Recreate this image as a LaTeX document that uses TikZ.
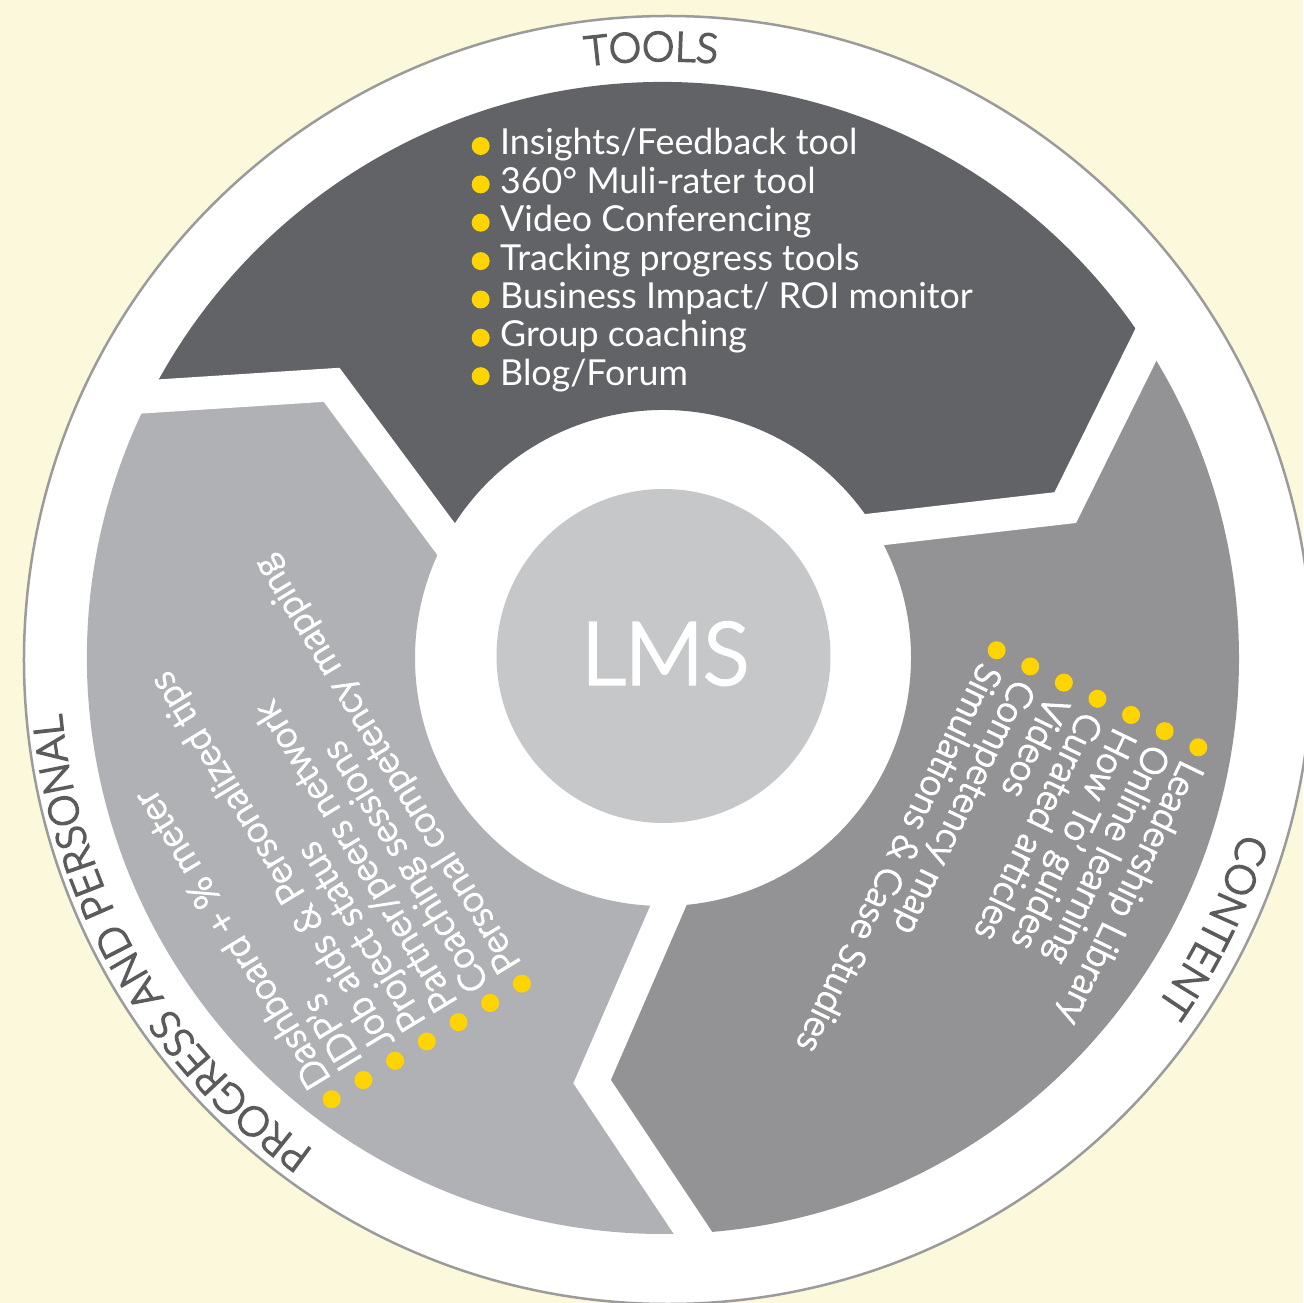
\documentclass[tikz,border=0pt]{standalone}
\usepackage{fontspec}
\setmainfont{Lato}
\newfontfamily\latolight{Lato Light}[FakeBold=2]
\newfontfamily\latomid{Lato Light}[FakeBold=4]
\usetikzlibrary{decorations.text}
\definecolor{cream}{HTML}{FCF8DB}
\definecolor{darkseg}{HTML}{626366}
\definecolor{medseg}{HTML}{939395}
\definecolor{lightseg}{HTML}{AFB1B4}
\definecolor{lmsfill}{HTML}{C6C7C9}
\definecolor{ringline}{HTML}{9B9B9B}
\definecolor{labcol}{HTML}{5B5B5E}
\definecolor{bulletcol}{HTML}{FFD400}
\newcommand\labfont{\latomid\fontsize{41}{41}\selectfont}
\begin{document}
\begin{tikzpicture}[x=1pt,y=1pt,
  bulletdot/.style={fill=bulletcol},
  tooltext/.style={text=white, inner sep=0pt, anchor=base west, font=\fontsize{35.8}{38}\selectfont},
  rottext/.style={text=white, inner sep=0pt, anchor=base west, font=\latomid\fontsize{36.5}{37}\selectfont},
  gapband/.style={draw=white, line width=33pt, line join=miter, shorten <=-25pt, shorten >=-25pt}]
\useasboundingbox (-663,-645) rectangle (640,658);
\fill[cream] (-663,-645) rectangle (640,658);
% outer white disc
\draw[draw=ringline, line width=2.5pt, fill=white] (5,-2) circle[radius=644];
% three segments
\foreach \k/\col in {0/darkseg,1/lightseg,2/medseg}{
  \pgfmathsetmacro\ao{33+120*\k}
  \pgfmathsetmacro\ae{153+120*\k}
  \pgfmathsetmacro\me{140.5+120*\k}
  \pgfmathsetmacro\ie{151.2+120*\k}
  \pgfmathsetmacro\io{31.2+120*\k}
  \pgfmathsetmacro\mo{20.5+120*\k}
  \fill[\col] (\ao:576) arc[start angle=\ao, end angle=\ae, radius=576]
    -- (\me:429.5) -- (\ie:248) arc[start angle=\ie, end angle=\io, radius=248]
    -- (\mo:429.5) -- cycle;
}
% white gaps between segments
\foreach \k in {0,1,2}{
  \pgfmathsetmacro\ao{33+120*\k}
  \pgfmathsetmacro\mo{20.5+120*\k}
  \pgfmathsetmacro\io{31.2+120*\k}
  \draw[gapband] (\ao:576) -- (\mo:429.5) -- (\io:248);
}
% centre
\fill[lmsfill] (0.5,2) circle[radius=167];
\node[text=white, inner sep=0pt, anchor=base, font=\latomid\fontsize{86}{86}\selectfont] (lms) at (2.5,-26) {LMS};
% ring labels
\path[decorate, decoration={text along path, text={|\labfont|TOOLS}, text align=center, text color=labcol}]
  (131.1:597) arc[start angle=131.1, end angle=51.1, radius=597];
\path[decorate, decoration={text along path, text={|\labfont|CONTENT}, text align=center, text color=labcol}]
  (14:604) arc[start angle=14, end angle=-66, radius=604];
\path[decorate, decoration={text along path, text={|\labfont|PROGRESS AND PERSONAL}, text align=center, text color=labcol}]
  (275:604) arc[start angle=275, end angle=145, radius=604];
% tools list
\fill[bulletdot] (-182.3,512) circle[radius=9];
\node[tooltext] (ta) at (-163,503) {Insights/Feedback tool};
\fill[bulletdot] (-182.3,473.6) circle[radius=9];
\node[tooltext] (tb) at (-163,464.6) {360° Muli-rater tool};
\fill[bulletdot] (-182.3,435.3) circle[radius=9];
\node[tooltext] (tc) at (-163,426.3) {Video Conferencing};
\fill[bulletdot] (-182.3,396.9) circle[radius=9];
\node[tooltext] (td) at (-163,387.9) {Tracking progress tools};
\fill[bulletdot] (-182.3,358.5) circle[radius=9];
\node[tooltext] (te) at (-163,349.5) {Business Impact/ ROI monitor};
\fill[bulletdot] (-182.3,320.2) circle[radius=9];
\node[tooltext] (tf) at (-163,311.2) {Group coaching};
\fill[bulletdot] (-182.3,281.8) circle[radius=9];
\node[tooltext] (tg) at (-163,272.8) {Blog/Forum};
% content list
\begin{scope}[shift={(535.3,-89.3)}, rotate=244.3, transform shape]
  \foreach \j in {0,...,6}{\fill[bulletdot] (0,-37.3*\j) circle[radius=9];}
  \node[rottext] (ca) at (17,-10) {Leadership Library};
  \node[rottext] (cb) at (17,-47.3) {Online learning};
  \node[rottext] (cc) at (17,-84.6) {How To’ guides};
  \node[rottext] (cd) at (17,-121.9) {Curated articles};
  \node[rottext] (ce) at (17,-159.2) {Videos};
  \node[rottext] (cf) at (17,-196.5) {Competency map};
  \node[rottext] (cg) at (17,-233.8) {Simulations \& Case Studies};
\end{scope}
% progress list
\begin{scope}[shift={(-331.3,-441.3)}, rotate=121.3, transform shape]
  \foreach \j in {0,...,6}{\fill[bulletdot] (0,-37.1*\j) circle[radius=9];}
  \node[rottext] (pa) at (17,-10) {Dashboard + \% meter};
  \node[rottext] (pb) at (17,-47.1) {IDP’s};
  \node[rottext] (pc) at (17,-84.2) {Job aids \& Personalized tips};
  \node[rottext] (pd) at (17,-121.3) {Project status};
  \node[rottext] (pe) at (17,-158.4) {Partner/peers network};
  \node[rottext] (pf) at (17,-195.5) {Coaching sessions};
  \node[rottext] (pg) at (17,-232.6) {Personal competency mapping};
\end{scope}
\end{tikzpicture}
\end{document}
